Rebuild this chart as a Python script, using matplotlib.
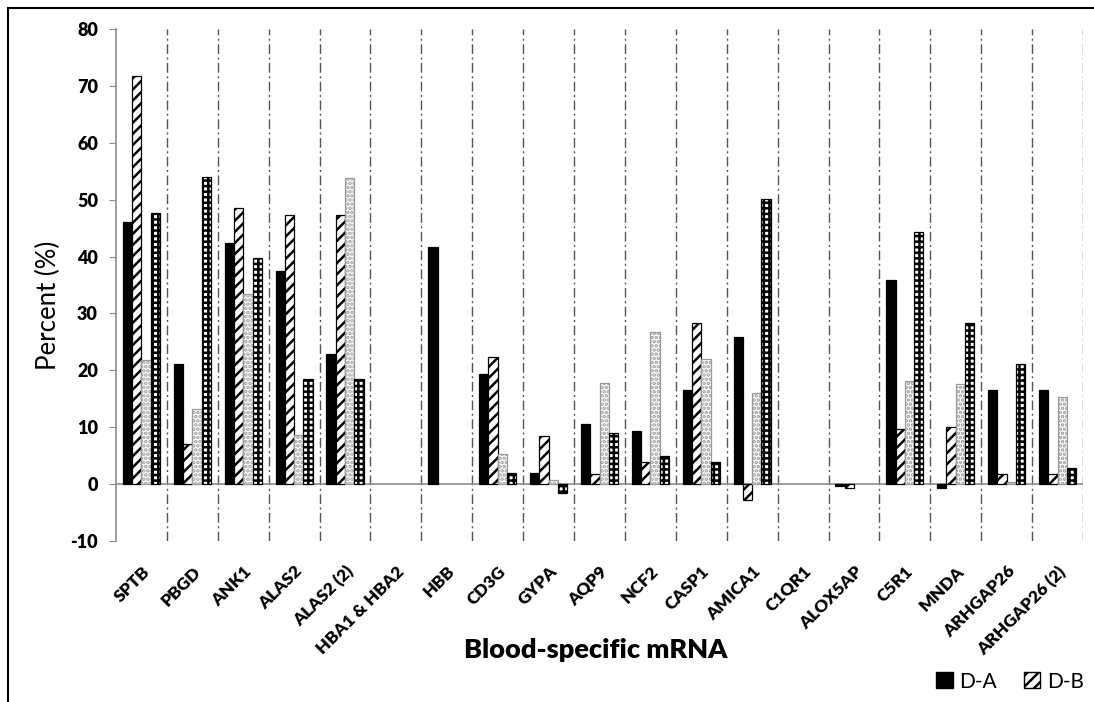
import matplotlib
matplotlib.use("Agg")
import matplotlib.pyplot as plt
import numpy as np
from matplotlib.lines import Line2D
from matplotlib.patches import Patch

categories = ["SPTB", "PBGD", "ANK1", "ALAS2", "ALAS2 (2)", "HBA1 & HBA2", "HBB",
              "CD3G", "GYPA", "AQP9", "NCF2", "CASP1", "AMICA1", "C1QR1", "ALOX5AP",
              "C5R1", "MNDA", "ARHGAP26", "ARHGAP26 (2)"]
d_a = [46.1, 21.2, 42.3, 37.5, 22.9, 0, 41.6, 19.4, 2.0, 10.6, 9.4, 16.5, 25.8, 0, -0.35,
       35.8, -0.6, 16.5, 16.5]
d_b = [71.8, 7.0, 48.6, 47.3, 47.3, 0, 0, 22.3, 8.4, 1.8, 3.9, 28.4, -2.8, 0, -0.7,
       9.6, 10.0, 1.8, 1.8]
series_c = [21.8, 13.2, 33.4, 8.6, 53.8, 0, 0, 5.3, 0.8, 17.8, 26.8, 22.0, 16.0, 0, 0,
            18.2, 17.6, 0.4, 15.4]
series_d = [47.7, 53.9, 39.8, 18.4, 18.4, 0, 0, 2.0, -1.6, 9.0, 5.0, 3.9, 50.1, 0, 0,
            44.3, 28.4, 21.2, 2.9]
y_ticks = [-10, 0, 10, 20, 30, 40, 50, 60, 70, 80]

plt.rcParams['font.family'] = ['Lato', 'DejaVu Sans']
plt.rcParams['hatch.linewidth'] = 1.8

W, H = 1094, 702
fig = plt.figure(figsize=(W / 100, H / 100), dpi=100)
ax = fig.add_axes([116 / W, 1 - 541 / H, (1083 - 116) / W, (541 - 29) / H])

x = np.arange(len(categories))
bw = 0.183
styles = [
    dict(color="black", edgecolor="black", hatch=None),
    dict(color="white", edgecolor="black", hatch="///"),
    dict(color="white", edgecolor="#9a9a9a", hatch="...."),
    dict(color="white", edgecolor="black", hatch="+++"),
]
all_series = [d_a, d_b, series_c, series_d]
for i, (vals, st) in enumerate(zip(all_series, styles)):
    v = np.array(vals, dtype=float)
    v[v == 0] = np.nan
    ax.bar(x + (i - 1.5) * bw, v, width=bw, color=st["color"],
           edgecolor=st["edgecolor"], hatch=st["hatch"], linewidth=0.9, zorder=3)

# separators
for b in np.arange(len(categories)) + 0.5:
    ax.plot([b, b], [-10, 80], color="#555555", lw=1.0,
            dashes=(7, 2.5, 1.5, 2.5), zorder=1)

ax.axhline(0, color="#8c8c8c", lw=1.2, zorder=2)
ax.set_xlim(-0.5, len(categories) - 0.5)
ax.set_ylim(-10, 80)
ax.set_yticks(y_ticks)
ax.set_yticklabels([str(v) for v in y_ticks], fontsize=13, fontweight="heavy")
ax.set_xticks(x)
ax.set_xticklabels(categories, rotation=45, ha="right", rotation_mode="anchor",
                   fontsize=12.5, fontweight="heavy")
ax.tick_params(axis="x", length=0, pad=16)
ax.tick_params(axis="y", length=5, color="#8c8c8c", direction="out", pad=8)
for s in ["top", "right", "bottom"]:
    ax.spines[s].set_visible(False)
ax.spines["left"].set_color("#8c8c8c")
ax.spines["left"].set_linewidth(1.2)

ax.set_ylabel("Percent (%)", fontsize=18.5)
ax.yaxis.set_label_coords(-0.057, 0.46)
ax.set_xlabel("Blood-specific mRNA", fontsize=19.5, fontweight="heavy")
ax.xaxis.set_label_coords(0.496, -0.19)

handles = [Patch(facecolor="black", edgecolor="black", label="D-A"),
           Patch(facecolor="white", edgecolor="black", hatch="///", label="D-B")]
fig.legend(handles=handles, loc="lower right", bbox_to_anchor=(1.0, 0.0),
           ncol=2, frameon=False, fontsize=15, handlelength=0.8, handleheight=0.8,
           handletextpad=0.3, columnspacing=1.3, borderaxespad=0.1)

# figure frame (top and left edges visible)
fig.add_artist(Line2D([8 / W, 8 / W], [0, 1 - 8 / H], color="black", lw=1.5,
                      transform=fig.transFigure))
fig.add_artist(Line2D([8 / W, 1], [1 - 8 / H, 1 - 8 / H], color="black", lw=1.5,
                      transform=fig.transFigure))

fig.savefig("out.png", dpi=100)
